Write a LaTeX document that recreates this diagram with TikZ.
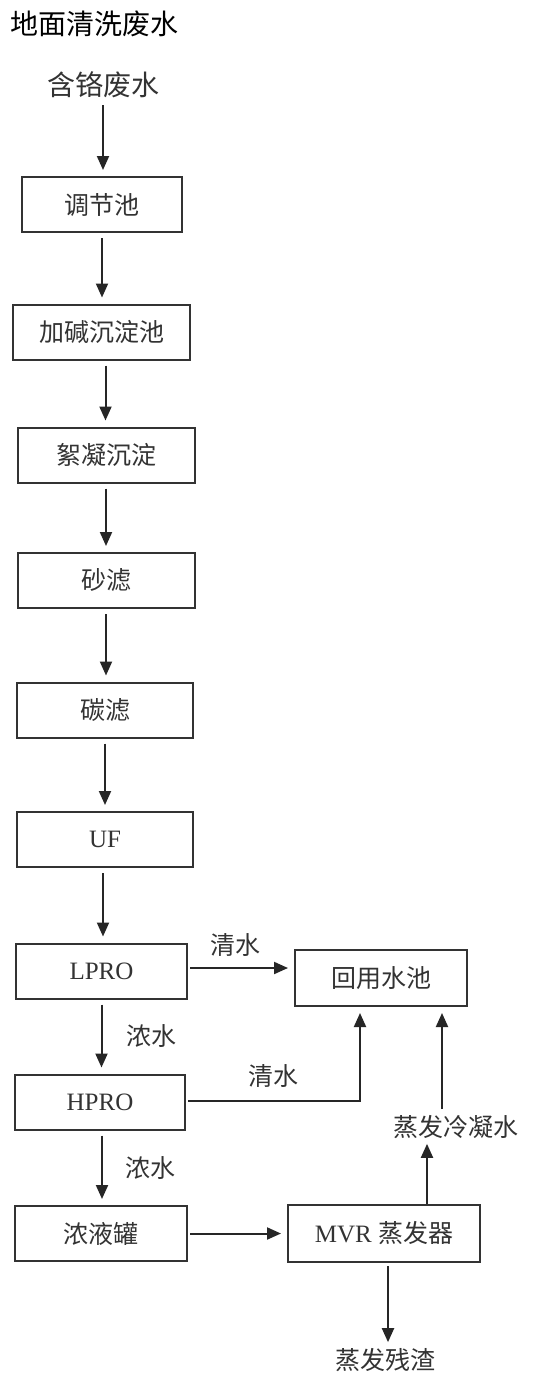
\documentclass[tikz,border=0pt]{standalone}
\usepackage{fontspec}
\setmainfont{Liberation Serif}
\newfontfamily\cjk{Noto Sans CJK SC}
\usepackage{tikz}
\usetikzlibrary{
  arrows.meta,
  calc,
  positioning,
}
\tikzstyle{arrow} = [
  -{Triangle[width=12pt,length=14pt]},
  line width=2pt,
  black!85,
  shorten >=6pt,
  shorten <=5pt,
]
\tikzstyle{box} = [
  draw=black!80,
  line width=2pt,
  rectangle,
  minimum height=55,
  font=\fontsize{25}{28}\selectfont,
  text=black!80,
]
\tikzstyle{lbl} = [
  font=\fontsize{25}{28}\selectfont\cjk,
  text=black!80,
  inner sep=2pt,
]

\begin{document}
\begin{tikzpicture}[x=1pt,y=-1pt]
        \useasboundingbox[fill=white] (0,0) rectangle (541,1376);

        \node[lbl,anchor=west,font=\fontsize{28}{32}\selectfont\cjk,text=black] (title) at (8,24) {地面清洗废水};
        \node[lbl,font=\fontsize{28}{32}\selectfont\cjk] (src) at (103,85) {含铬废水};

        \node[box,minimum width=160] (b1) at (102,204.5) {\cjk 调节池};
        \node[box,minimum width=177] (b2) at (101.5,332) {\cjk 加碱沉淀池};
        \node[box,minimum width=177] (b3) at (106,455) {\cjk 絮凝沉淀};
        \node[box,minimum width=177] (b4) at (106,580.5) {\cjk 砂滤};
        \node[box,minimum width=176] (b5) at (105,710) {\cjk 碳滤};
        \node[box,minimum width=176] (b6) at (105,839.5) {UF};
        \node[box,minimum width=171] (b7) at (101.5,971) {LPRO};
        \node[box,minimum width=170] (b8) at (100,1102) {HPRO};
        \node[box,minimum width=172] (b9) at (101,1233.5) {\cjk 浓液罐};

        \node[box,minimum width=172,minimum height=56] (pool) at (381,978) {\cjk 回用水池};
        \node[box,minimum width=192,minimum height=57] (mvr) at (384,1233.5) {MVR {\cjk 蒸发器}};

        \node[lbl] (cond) at (456,1127) {蒸发冷凝水};
        \node[lbl] (resid) at (385,1360) {蒸发残渣};

        % main line
        \draw[arrow] (src.south) -- (src.south |- b1.north);
        \draw[arrow] (b1.south) -- (b1.south |- b2.north);
        \draw[arrow] ([xshift=4]b2.south) -- ([xshift=4]b2.south |- b3.north);
        \draw[arrow] (b3.south) -- (b3.south |- b4.north);
        \draw[arrow] (b4.south) -- (b4.south |- b5.north);
        \draw[arrow] (b5.south) -- (b5.south |- b6.north);
        \draw[arrow] ([xshift=-2]b6.south) -- ([xshift=-2]b6.south |- b7.north);
        \draw[arrow] (b7.south) -- (b7.south |- b8.north) node[lbl,midway,right=22pt] (c1) {浓水};
        \draw[arrow] ([xshift=2]b8.south) -- ([xshift=2]b8.south |- b9.north) node[lbl,midway,right=20pt] (c2) {浓水};

        % clear water
        \draw[arrow,shorten <=2pt] ([yshift=3]b7.east) -- ([yshift=3]b7.east -| pool.west) node[lbl,pos=0.45,above=8pt] (w1) {清水};
        \draw[arrow,shorten <=2pt] ([yshift=1]b8.east) -| ([xshift=-21]pool.south) node[lbl,pos=0.25,above=10pt] (w2) {清水};

        % evaporation
        \draw[arrow,shorten <=2pt] (b9.east) -- (mvr.west);
        \draw[arrow,shorten <=0pt,shorten >=3pt] ([xshift=43]mvr.north) -- ([xshift=43]mvr.north |- cond.south);
        \draw[arrow,shorten <=4pt] ([xshift=-14]cond.north) -- ([xshift=-14]cond.north |- pool.south);
        \draw[arrow,shorten <=3pt,shorten >=4pt] ([xshift=4]mvr.south) -- ([xshift=4]mvr.south |- resid.north);
\end{tikzpicture}
\end{document}
